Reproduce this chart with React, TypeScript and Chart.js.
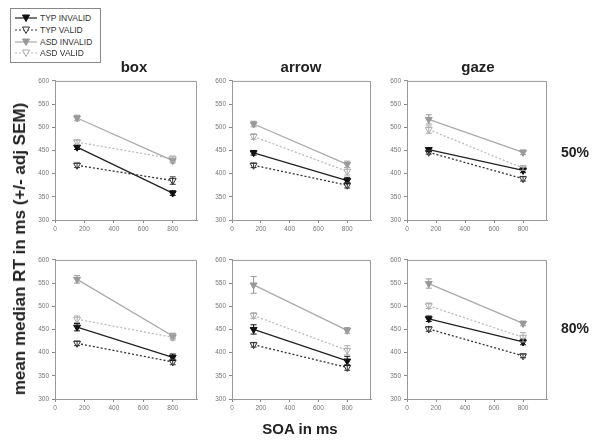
import React, { useEffect, useRef } from "react";
import { Chart, registerables } from "chart.js";

Chart.register(...registerables);

// ---------- data ----------
const SOA = [150, 800];
const SERIES_NAMES = ["TYP INVALID", "TYP VALID", "ASD INVALID", "ASD VALID"];
const CUE_TYPES = ["box", "arrow", "gaze"];
const VALIDITY_LEVELS = ["50%", "80%"];
const Y_TICKS = [300, 350, 400, 450, 500, 550, 600];
const X_TICKS = [0, 200, 400, 600, 800];

// 50% row means
const box50_typInvalid = [457, 358];
const box50_typValid = [418, 385];
const box50_asdInvalid = [520, 428];
const box50_asdValid = [468, 432];
const arrow50_typInvalid = [445, 385];
const arrow50_typValid = [418, 375];
const arrow50_asdInvalid = [507, 420];
const arrow50_asdValid = [480, 405];
const gaze50_typInvalid = [452, 407];
const gaze50_typValid = [446, 389];
const gaze50_asdInvalid = [517, 446];
const gaze50_asdValid = [495, 412];
// 80% row means
const box80_typInvalid = [455, 390];
const box80_typValid = [420, 380];
const box80_asdInvalid = [558, 436];
const box80_asdValid = [472, 433];
const arrow80_typInvalid = [450, 382];
const arrow80_typValid = [417, 368];
const arrow80_asdInvalid = [546, 448];
const arrow80_asdValid = [480, 405];
const gaze80_typInvalid = [473, 423];
const gaze80_typValid = [451, 393];
const gaze80_asdInvalid = [549, 463];
const gaze80_asdValid = [501, 433];

// adjusted SEM (error bar half-lengths)
const box50_sem = [[5, 5], [5, 8], [6, 5], [5, 6]];
const arrow50_sem = [[5, 7], [5, 6], [6, 7], [6, 8]];
const gaze50_sem = [[4, 5], [4, 5], [10, 5], [8, 5]];
const box80_sem = [[8, 7], [5, 6], [8, 6], [7, 6]];
const arrow80_sem = [[10, 10], [5, 6], [18, 6], [6, 10]];
const gaze80_sem = [[6, 6], [5, 4], [10, 5], [6, 10]];

// ---------- styling / layout ----------
const FONT = "'Liberation Sans', Arial, Helvetica, sans-serif";
const COL_LEFT = [55, 232, 407];
const COL_RIGHT = [197, 371, 547];
const ROW_TOP = [80, 259];
const ROW_BOTTOM = [220, 399];
const YW = 30;
const XH = 18;
const PT = 6;
const PR = 6;
const X_MAX = 965;

const STYLES = [
  { line: "#222", fill: "#111", border: "#111", dash: [] as number[] },
  { line: "#333", fill: "#fff", border: "#333", dash: [2, 2] },
  { line: "#aaa", fill: "#999", border: "#999", dash: [] as number[] },
  { line: "#bbb", fill: "#fff", border: "#aaa", dash: [2, 2] },
];

const frameAndErrors = {
  id: "frameAndErrors",
  afterDatasetsDraw(chart: any) {
    const { ctx, chartArea, scales } = chart;
    const sems: number[][] = chart.options.plugins.frameAndErrors.sems;
    ctx.save();
    ctx.strokeStyle = "#999";
    ctx.lineWidth = 1;
    ctx.beginPath();
    ctx.moveTo(chartArea.left, chartArea.top + 0.5);
    ctx.lineTo(chartArea.right - 0.5, chartArea.top + 0.5);
    ctx.lineTo(chartArea.right - 0.5, chartArea.bottom);
    ctx.stroke();
    chart.data.datasets.forEach((ds: any, i: number) => {
      ctx.strokeStyle = STYLES[i].border;
      ctx.lineWidth = 1;
      ds.data.forEach((p: any, j: number) => {
        const e = sems[i][j];
        const x = scales.x.getPixelForValue(p.x);
        const y1 = scales.y.getPixelForValue(p.y - e);
        const y2 = scales.y.getPixelForValue(p.y + e);
        ctx.beginPath();
        ctx.moveTo(x, y1);
        ctx.lineTo(x, y2);
        ctx.moveTo(x - 3, y1);
        ctx.lineTo(x + 3, y1);
        ctx.moveTo(x - 3, y2);
        ctx.lineTo(x + 3, y2);
        ctx.stroke();
      });
    });
    ctx.restore();
  },
};

function Panel(props: { col: number; row: number; means: number[][]; sems: number[][] }) {
  const ref = useRef<HTMLCanvasElement>(null);
  const { col, row, means, sems } = props;
  const plotW = COL_RIGHT[col] - COL_LEFT[col];
  const plotH = ROW_BOTTOM[row] - ROW_TOP[row];
  const width = plotW + YW + PR;
  const height = plotH + PT + XH;
  const left = COL_LEFT[col] - YW;
  const top = ROW_TOP[row] - PT;

  useEffect(() => {
    if (!ref.current) return;
    const chart = new Chart(ref.current, {
      type: "line",
      data: {
        datasets: means.map((m, i) => ({
          label: SERIES_NAMES[i],
          data: SOA.map((x, j) => ({ x, y: m[j] })),
          borderColor: STYLES[i].line,
          borderWidth: 1.3,
          borderDash: STYLES[i].dash,
          pointStyle: "triangle",
          rotation: 180,
          pointRadius: 4,
          pointBackgroundColor: STYLES[i].fill,
          pointBorderColor: STYLES[i].border,
          pointBorderWidth: 1,
          fill: false,
          tension: 0,
        })),
      },
      options: {
        responsive: false,
        animation: false,
        devicePixelRatio: 1,
        layout: { padding: { top: PT, right: PR, left: 0, bottom: 0 } },
        plugins: {
          legend: { display: false },
          tooltip: { enabled: false },
          frameAndErrors: { sems },
        } as any,
        scales: {
          x: {
            type: "linear",
            min: 0,
            max: X_MAX,
            afterFit: (s: any) => { s.height = XH; },
            afterBuildTicks: (s: any) => { s.ticks = X_TICKS.map((v) => ({ value: v })); },
            ticks: {
              font: { family: FONT, size: 6.5 },
              color: "#777",
              padding: 2,
              maxRotation: 0,
              autoSkip: false,
            },
            grid: { drawOnChartArea: false, drawTicks: true, tickLength: 3, color: "#888" },
            border: { color: "#999" },
          },
          y: {
            min: 300,
            max: 600,
            afterFit: (s: any) => { s.width = YW; },
            afterBuildTicks: (s: any) => { s.ticks = Y_TICKS.map((v) => ({ value: v })); },
            ticks: { font: { family: FONT, size: 6.5 }, color: "#777", padding: 3, autoSkip: false },
            grid: { drawOnChartArea: false, drawTicks: true, tickLength: 3, color: "#888" },
            border: { color: "#999" },
          },
        },
      } as any,
      plugins: [frameAndErrors],
    });
    return () => chart.destroy();
  }, []);

  return (
    <canvas
      ref={ref}
      width={width}
      height={height}
      style={{ position: "absolute", left, top, width, height }}
    />
  );
}

function LegendGlyph(props: { i: number; y: number }) {
  const s = STYLES[props.i];
  const cx = 26;
  const y = props.y;
  return (
    <g>
      <line x1={15} x2={37} y1={y} y2={y} stroke={s.line} strokeWidth={1.2} strokeDasharray={s.dash.length ? "2 2" : undefined} />
      <polygon points={`${cx - 3.5},${y - 3} ${cx + 3.5},${y - 3} ${cx},${y + 3.5}`} fill={s.fill} stroke={s.border} strokeWidth={1} />
    </g>
  );
}

export default function App() {
  const panels = [
    { col: 0, row: 0, means: [box50_typInvalid, box50_typValid, box50_asdInvalid, box50_asdValid], sems: box50_sem },
    { col: 1, row: 0, means: [arrow50_typInvalid, arrow50_typValid, arrow50_asdInvalid, arrow50_asdValid], sems: arrow50_sem },
    { col: 2, row: 0, means: [gaze50_typInvalid, gaze50_typValid, gaze50_asdInvalid, gaze50_asdValid], sems: gaze50_sem },
    { col: 0, row: 1, means: [box80_typInvalid, box80_typValid, box80_asdInvalid, box80_asdValid], sems: box80_sem },
    { col: 1, row: 1, means: [arrow80_typInvalid, arrow80_typValid, arrow80_asdInvalid, arrow80_asdValid], sems: arrow80_sem },
    { col: 2, row: 1, means: [gaze80_typInvalid, gaze80_typValid, gaze80_asdInvalid, gaze80_asdValid], sems: gaze80_sem },
  ];
  const titleX = [134, 301, 478];
  const rowLabelY = [152, 328];
  const legendY = [18, 30, 42, 53];
  const bold = { fontFamily: FONT, fontWeight: 700, color: "#222", position: "absolute" as const, whiteSpace: "nowrap" as const };

  return (
    <div style={{ position: "absolute", left: 0, top: 0, width: 600, height: 442, background: "#fff", overflow: "hidden" }}>
      {panels.map((p) => (
        <Panel key={`${p.col}-${p.row}`} {...p} />
      ))}
      {CUE_TYPES.map((t, i) => (
        <div key={t} style={{ ...bold, fontSize: 15, left: titleX[i], top: 66, transform: "translate(-50%,-50%)" }}>{t}</div>
      ))}
      {VALIDITY_LEVELS.map((v, i) => (
        <div key={v} style={{ ...bold, fontSize: 14, left: 575, top: rowLabelY[i], transform: "translate(-50%,-50%)" }}>{v}</div>
      ))}
      <div style={{ ...bold, fontSize: 17, left: 20, top: 249, transform: "translate(-50%,-50%) rotate(-90deg)" }}>
        mean median RT in ms (+/- adj SEM)
      </div>
      <div style={{ ...bold, fontSize: 15, left: 300, top: 428, transform: "translate(-50%,-50%)" }}>SOA in ms</div>
      <svg width={120} height={70} style={{ position: "absolute", left: 0, top: 0 }}>
        <rect x={10.5} y={8.5} width={90} height={54} fill="#fff" stroke="#888" strokeWidth={1} />
        {SERIES_NAMES.map((n, i) => (
          <LegendGlyph key={n} i={i} y={legendY[i]} />
        ))}
      </svg>
      {SERIES_NAMES.map((n, i) => (
        <div
          key={n}
          style={{ position: "absolute", left: 40, top: legendY[i], transform: "translateY(-50%)", fontFamily: FONT, fontSize: 8.5, color: "#333", whiteSpace: "nowrap", lineHeight: 1 }}
        >
          {n}
        </div>
      ))}
    </div>
  );
}
